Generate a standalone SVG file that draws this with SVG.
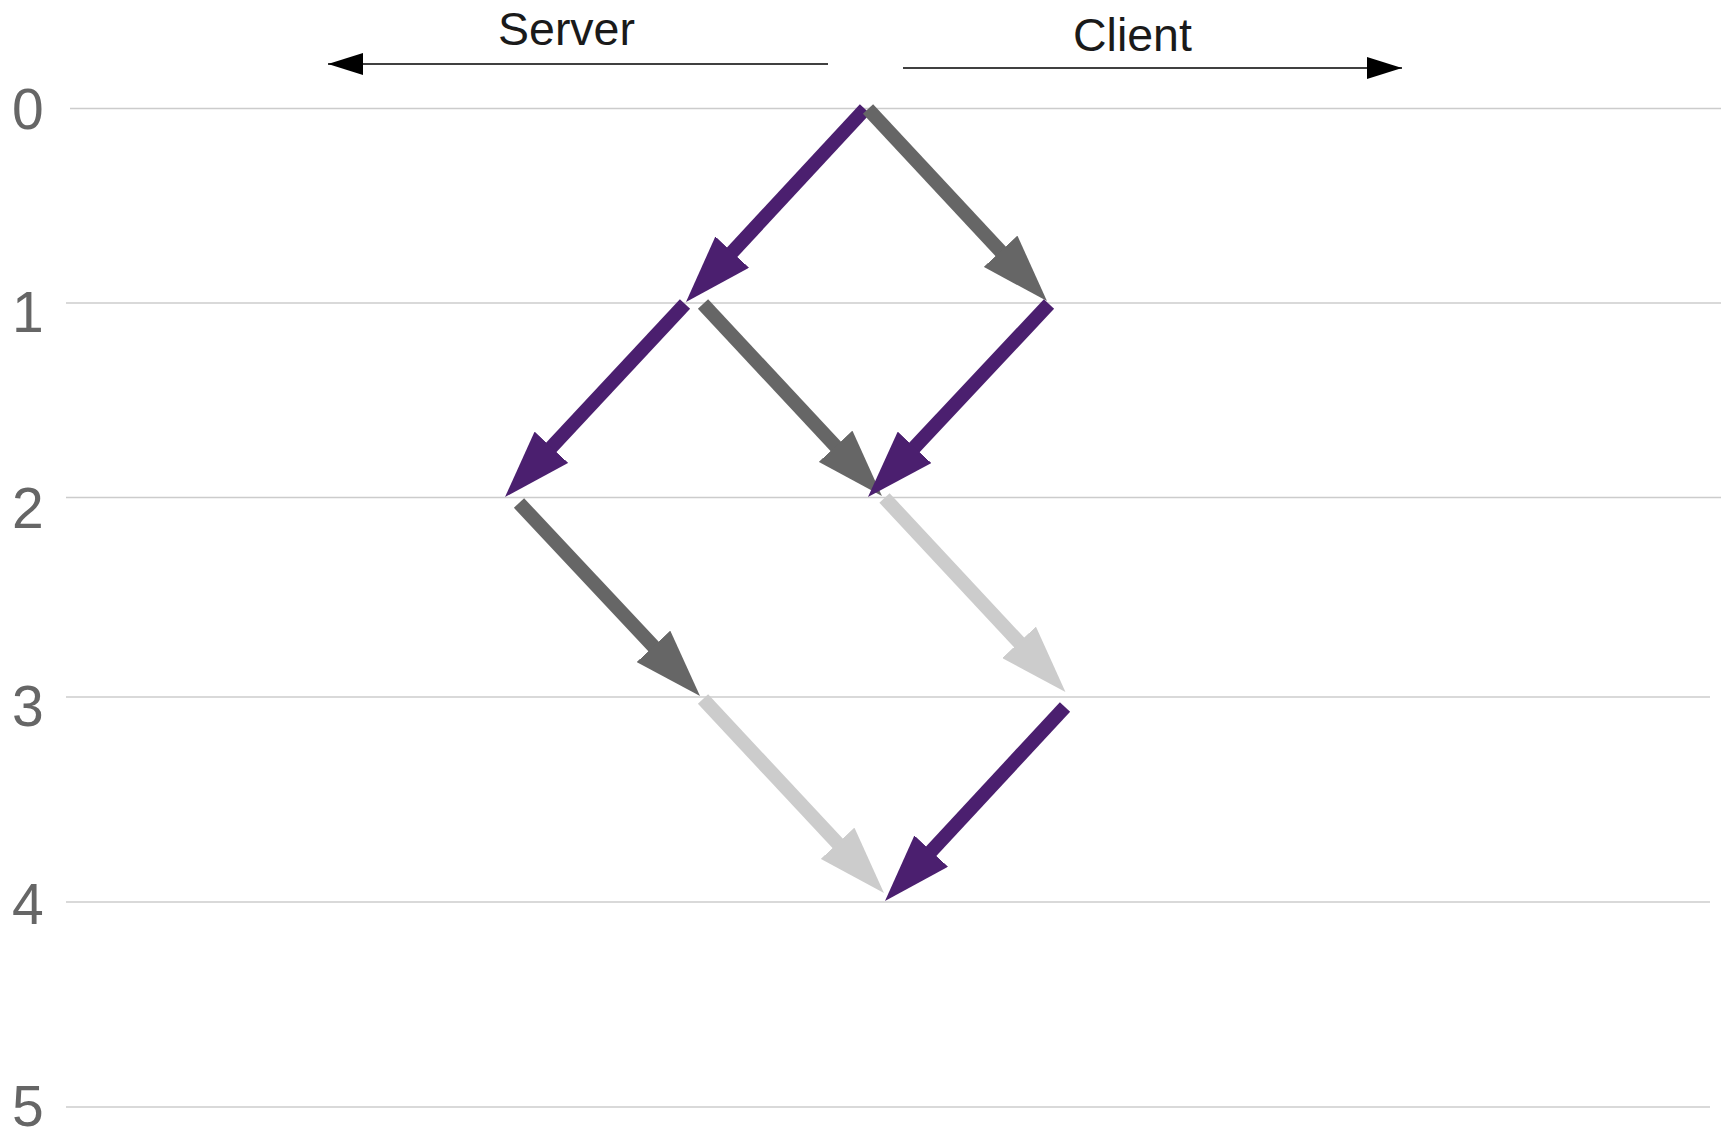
<svg xmlns="http://www.w3.org/2000/svg" width="1721" height="1130" viewBox="0 0 1721 1130">
<style>
.grid{stroke:#cccccc;stroke-width:1.5;fill:none}
.lvl{font-family:"Liberation Sans",Arial,sans-serif;font-size:57px;fill:#666666}
.hdr{font-family:"Liberation Sans",Arial,sans-serif;font-size:46.5px;fill:#1a1a1a}
.ax{stroke:#000000;stroke-width:1.3;fill:none}
.a{stroke-width:14;stroke-linecap:butt;fill:none}
.p{stroke:#4b1f6f;marker-end:url(#hp)}
.g{stroke:#666666;marker-end:url(#hg)}
.l{stroke:#cccccc;marker-end:url(#hl)}
</style>
<defs>
<marker id="hp" viewBox="0 0 68 46" refX="38" refY="23" markerWidth="68" markerHeight="46" markerUnits="userSpaceOnUse" orient="auto"><path d="M0,0 L68,23 L0,46 Z" fill="#4b1f6f"/></marker>
<marker id="hg" viewBox="0 0 68 46" refX="38" refY="23" markerWidth="68" markerHeight="46" markerUnits="userSpaceOnUse" orient="auto"><path d="M0,0 L68,23 L0,46 Z" fill="#666666"/></marker>
<marker id="hl" viewBox="0 0 68 46" refX="38" refY="23" markerWidth="68" markerHeight="46" markerUnits="userSpaceOnUse" orient="auto"><path d="M0,0 L68,23 L0,46 Z" fill="#cccccc"/></marker>
<marker id="ha" viewBox="0 0 35 22" refX="35" refY="11" markerWidth="35" markerHeight="22" markerUnits="userSpaceOnUse" orient="auto"><path d="M0,0 L35,11 L0,22 Z" fill="#000000"/></marker>
</defs>
<rect width="1721" height="1130" fill="#ffffff"/>
<g id="grid">
<line class="grid" x1="70" y1="108.5" x2="1721" y2="108.5"/>
<line class="grid" x1="66" y1="303" x2="1721" y2="303"/>
<line class="grid" x1="66" y1="497.5" x2="1721" y2="497.5"/>
<line class="grid" x1="66" y1="697" x2="1710" y2="697"/>
<line class="grid" x1="66" y1="902" x2="1710" y2="902"/>
<line class="grid" x1="66" y1="1107" x2="1710" y2="1107"/>
</g>
<g id="levels">
<text class="lvl" x="12" y="128.5">0</text>
<text class="lvl" x="12" y="331.5">1</text>
<text class="lvl" x="12" y="528">2</text>
<text class="lvl" x="12" y="726">3</text>
<text class="lvl" x="12" y="924">4</text>
<text class="lvl" x="12" y="1126">5</text>
</g>
<g id="server">
<text class="hdr" x="498" y="45">Server</text>
<line class="ax" x1="828" y1="64" x2="328" y2="64" marker-end="url(#ha)"/>
</g>
<g id="client">
<text class="hdr" x="1073" y="50.5">Client</text>
<line class="ax" x1="903" y1="68" x2="1402" y2="68" marker-end="url(#ha)"/>
</g>
<g id="connectors">
<line class="a l" x1="884.5" y1="498" x2="1045" y2="670.1"/>
<line class="a l" x1="703" y1="699" x2="863.5" y2="871.1"/>
<line class="a p" x1="865" y1="109" x2="706.4" y2="280"/>
<line class="a g" x1="868" y1="109" x2="1026.5" y2="279.1"/>
<line class="a p" x1="685" y1="304" x2="525.5" y2="475.1"/>
<line class="a g" x1="703" y1="304" x2="861.5" y2="474.1"/>
<line class="a p" x1="1049" y1="304" x2="888.5" y2="475.1"/>
<line class="a g" x1="519" y1="503" x2="679.5" y2="674.1"/>
<line class="a p" x1="1065" y1="707" x2="905.4" y2="879"/>
</g>
</svg>
